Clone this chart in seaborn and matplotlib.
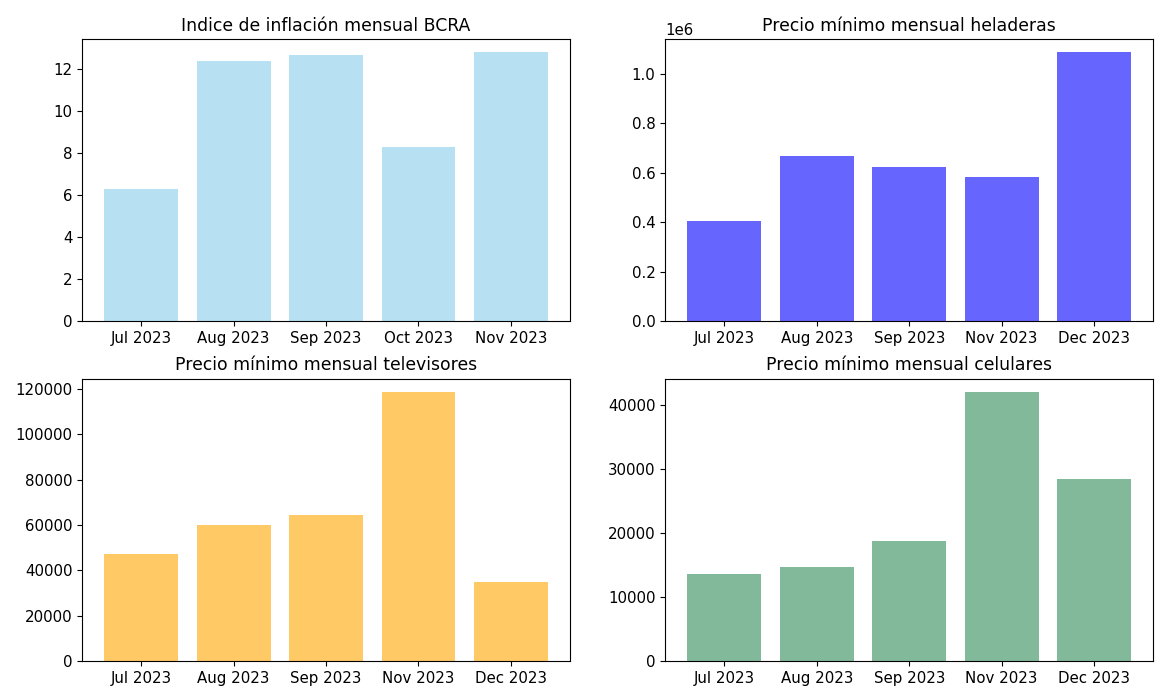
import matplotlib
matplotlib.use('Agg')
import matplotlib.pyplot as plt
import matplotlib.ticker as mticker
import pandas as pd
import seaborn as sns

# meses de cada panel
meses_inflacion = ['Jul 2023', 'Aug 2023', 'Sep 2023', 'Oct 2023', 'Nov 2023']
meses_precios = ['Jul 2023', 'Aug 2023', 'Sep 2023', 'Nov 2023', 'Dec 2023']

# valores
inflacion_bcra = [6.3, 12.4, 12.7, 8.3, 12.8]
precio_heladeras = [407000, 669000, 622000, 582000, 1085000]
precio_televisores = [47200, 60000, 64400, 118700, 34900]
precio_celulares = [13600, 14700, 18800, 42000, 28400]

titulos = ['Indice de inflación mensual BCRA',
           'Precio mínimo mensual heladeras',
           'Precio mínimo mensual televisores',
           'Precio mínimo mensual celulares']
colores = ['skyblue', 'blue', 'orange', 'seagreen']

paneles = [(meses_inflacion, inflacion_bcra),
           (meses_precios, precio_heladeras),
           (meses_precios, precio_televisores),
           (meses_precios, precio_celulares)]

plt.rcParams['xtick.labelsize'] = 10.8
plt.rcParams['ytick.labelsize'] = 10.8
plt.rcParams['axes.titlesize'] = 12.4

fig, axes = plt.subplots(2, 2, figsize=(11.59, 6.91), dpi=100)
fig.subplots_adjust(left=0.0708, right=0.995, bottom=0.0434, top=0.9436,
                    wspace=0.195, hspace=0.202)

for ax, (meses, valores), titulo, color in zip(axes.flat, paneles, titulos, colores):
    df = pd.DataFrame({'mes': meses, 'valor': valores})
    sns.barplot(data=df, x='mes', y='valor', color=color, alpha=0.6,
                saturation=1, width=0.8, ax=ax)
    ax.set_xlim(-0.64, 4.64)
    ax.set_title(titulo)
    ax.set_xlabel('')
    ax.set_ylabel('')

axes[1, 1].yaxis.set_major_locator(mticker.MultipleLocator(10000))

fig.savefig('out.png', dpi=100)
